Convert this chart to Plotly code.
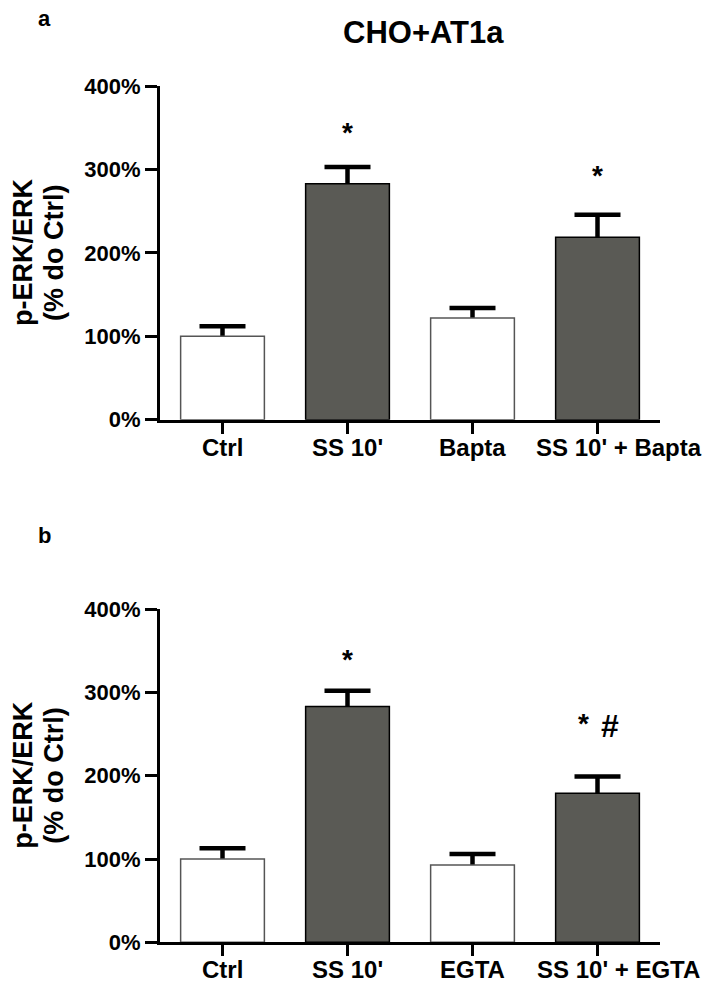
import plotly.graph_objects as go

# data (percent of control)
CATS_A = ["Ctrl", "SS 10'", "Bapta", "SS 10' + Bapta"]
VALS_A = [100, 283, 122, 219]
ERR_A = [12, 20, 12, 27]

CATS_B = ["Ctrl", "SS 10'", "EGTA", "SS 10' + EGTA"]
VALS_B = [100, 283, 93, 179]
ERR_B = [13, 19, 13, 20]

# significance marks: category, symbol, height (%)
SIG_A = [("SS 10'", "*", 344), ("SS 10' + Bapta", "*", 293)]
SIG_B = [("SS 10'", "*", 339), ("SS 10' + EGTA", "*", 263), ("SS 10' + EGTA", "#", 260)]

Y_TICKS = [0, 100, 200, 300, 400]
Y_TICKTEXT = ["0%", "100%", "200%", "300%", "400%"]

FONT = "Arial, Liberation Sans, sans-serif"
DARK = "#5a5a55"
FILLS = ["white", DARK, "white", DARK]
EDGES = ["#555555", "black", "#555555", "black"]
W, H = 709, 983


def py(t):
    # target pixel row -> paper fraction (the capture squeezes the page a bit vertically)
    return 1 - ((t - 12.5) / 0.974) / H


fig = go.Figure()


def add_panel(cats, vals, errs, xa, ya):
    # hidden bars carry the error bars, the visible bars go on top to hide the lower half
    fig.add_trace(go.Bar(
        x=cats, y=vals, width=0.67, xaxis=xa, yaxis=ya,
        marker=dict(color="rgba(0,0,0,0)", line=dict(width=0)),
        error_y=dict(type="data", array=errs, visible=True,
                     color="black", thickness=4.5, width=23),
        showlegend=False, hoverinfo="skip",
    ))
    fig.add_trace(go.Bar(
        x=cats, y=vals, width=0.67, xaxis=xa, yaxis=ya,
        marker=dict(color=FILLS, line=dict(color=EDGES, width=1.5)),
        showlegend=False,
    ))


add_panel(CATS_A, VALS_A, ERR_A, "x", "y")
add_panel(CATS_B, VALS_B, ERR_B, "x2", "y2")

xdom = [160 / W, 660 / W]
ydom_a = [py(420), py(86.7)]
ydom_b = [py(942.3), py(609.3)]

xax = dict(domain=xdom, type="category", range=[-0.5, 3.5], showline=True,
           linecolor="black", linewidth=3, ticks="outside", ticklen=11,
           tickwidth=3, tickcolor="black", showticklabels=False,
           showgrid=False, zeroline=False, fixedrange=True)
yax = dict(range=[0, 400], tickvals=Y_TICKS, ticktext=Y_TICKTEXT, showline=True,
           linecolor="black", linewidth=3, ticks="outside", ticklen=12,
           tickwidth=3, tickcolor="black", showgrid=False, zeroline=False,
           tickfont=dict(family=FONT, size=22, color="black", weight="bold"),
           fixedrange=True)

annotations = []


def panel_text(cats, sigs, xr, yr):
    # category labels under the axis (last one sits a little to the right)
    for i, c in enumerate(cats):
        annotations.append(dict(
            x=c, y=0, xref=xr, yref=yr, xanchor="center", yanchor="top",
            yshift=-12, xshift=21 if i == len(cats) - 1 else 0, text=c, showarrow=False,
            font=dict(family=FONT, size=24, color="black", weight="bold"),
        ))
    for c, sym, yv in sigs:
        shift = 0
        if sym == "*" and c.startswith("SS 10' + E"):
            shift = -14
        if sym == "#":
            shift = 12
        annotations.append(dict(
            x=c, y=yv, xref=xr, yref=yr, xanchor="center", yanchor="middle",
            xshift=shift, text=sym, showarrow=False,
            font=dict(family=FONT, size=32 if sym == "#" else 28, color="black",
                      weight="bold"),
        ))
    # y axis title, two lines
    for txt, px in [("p-ERK/ERK", 23), ("(% do Ctrl)", 54)]:
        annotations.append(dict(
            x=px / W, y=0.5, xref="paper", yref=yr + " domain",
            xanchor="center", yanchor="middle", textangle=-90, text=txt,
            showarrow=False,
            font=dict(family=FONT, size=27, color="black", weight="bold"),
        ))


panel_text(CATS_A, SIG_A, "x", "y")
panel_text(CATS_B, SIG_B, "x2", "y2")

annotations.append(dict(x=424 / W, y=py(33), xref="paper", yref="paper",
                        text="CHO+AT1a", showarrow=False, xanchor="center", yanchor="middle",
                        font=dict(family=FONT, size=31, color="black", weight="bold")))
annotations.append(dict(x=44 / W, y=py(19), xref="paper", yref="paper",
                        text="a", showarrow=False, xanchor="center", yanchor="middle",
                        font=dict(family=FONT, size=22, color="black", weight="bold")))
annotations.append(dict(x=44 / W, y=py(536), xref="paper", yref="paper",
                        text="b", showarrow=False, xanchor="center", yanchor="middle",
                        font=dict(family=FONT, size=22, color="black", weight="bold")))

fig.update_layout(
    width=W, height=H,
    margin=dict(l=0, r=0, t=0, b=0),
    paper_bgcolor="white", plot_bgcolor="white",
    barmode="overlay",
    xaxis=dict(xax, anchor="y"),
    yaxis=dict(yax, domain=ydom_a, anchor="x"),
    xaxis2=dict(xax, anchor="y2"),
    yaxis2=dict(yax, domain=ydom_b, anchor="x2"),
    annotations=annotations,
    font=dict(family=FONT, color="black"),
)

# drop the default page margin so the figure sits at the window's corner
fig.write_html("out.html", config={"displayModeBar": False},
               post_script="document.body.style.margin='0';")
